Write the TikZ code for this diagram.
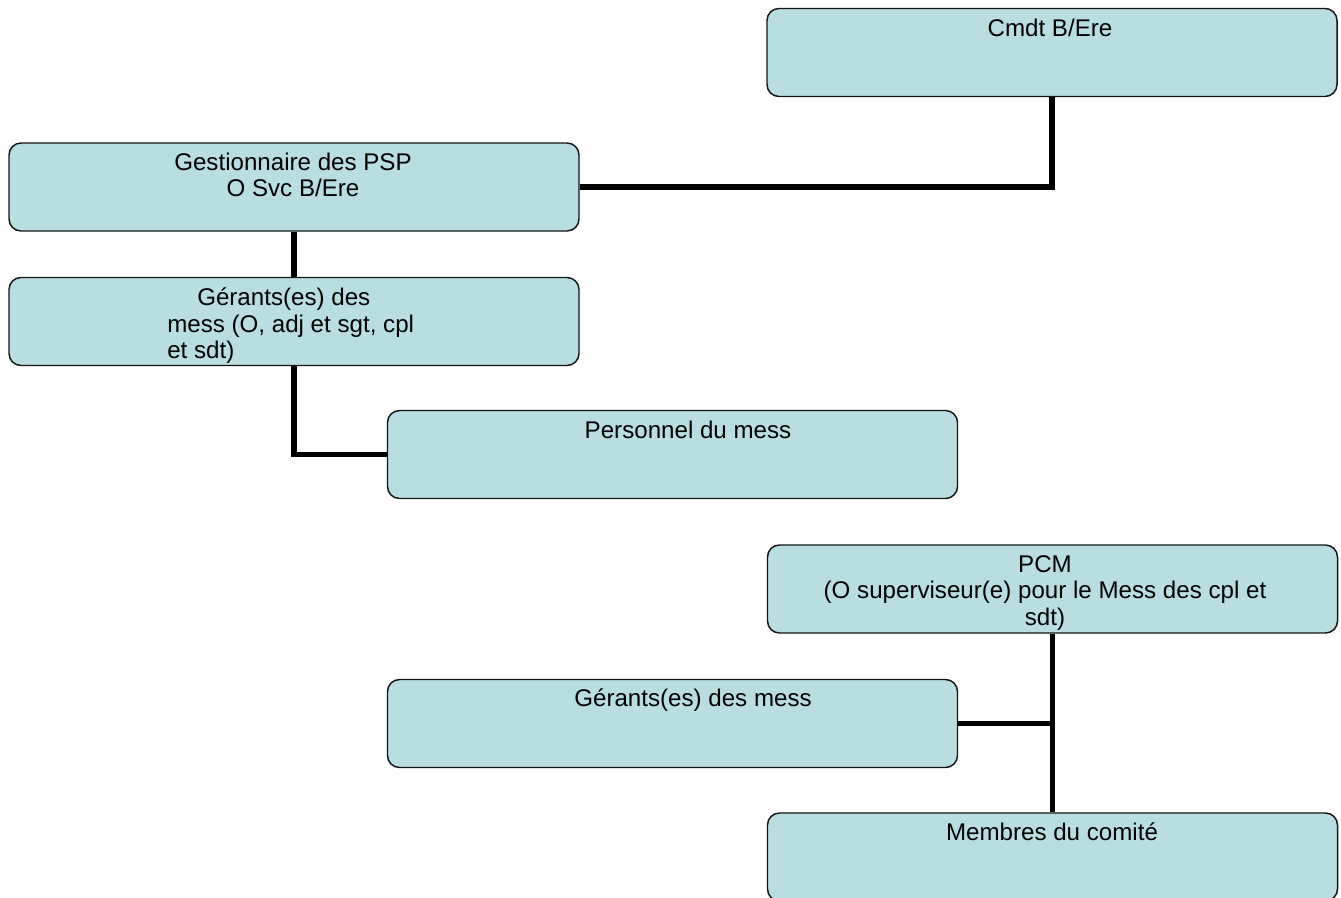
\documentclass[tikz,border=0pt]{standalone}
\usepackage{fontspec}
\setmainfont{Liberation Sans}
\definecolor{boxfill}{HTML}{B8DEE1}
\definecolor{boxline}{HTML}{141414}
\begin{document}
\begin{tikzpicture}[x=0.75pt,y=-0.75pt,
  box/.style={draw=boxline, line width=1.1pt, fill=boxfill, rounded corners=9pt,
              minimum width=427.5pt, minimum height=66pt, inner sep=0pt},
  lab/.style={inner sep=0pt, anchor=base, align=center,
              font=\fontsize{18.1}{19.7}\selectfont},
  labl/.style={lab, anchor=base west, align=left},
  link/.style={line width=3.8pt, draw=black}]
\useasboundingbox (0,0) rectangle (1341,898);
\clip (0,0) rectangle (1341,898);
% boxes
\node[box] (cmdt) at (1052,52.5) {};
\node[box] (gest) at (294,187) {};
\node[box] (ger1) at (294,321.5) {};
\node[box] (pers) at (672.5,454.5) {};
\node[box] (pcm)  at (1052.5,589) {};
\node[box] (ger2) at (672.5,723.5) {};
\node[box] (memb) at (1052.5,857) {};
% texts (base anchor = baseline of the last line)
\node[lab] (cmdt-t) at (1050,36.5) {Cmdt B/Ere};
\node[lab] (gest-t) at (293,196.5) {Gestionnaire des PSP\\O Svc B/Ere};
\node[labl] (ger1-t) at (167,358.5) {\hspace*{22.5pt}Gérants(es) des\\mess (O, adj et sgt, cpl\\et sdt)};
\node[lab] (pers-t) at (688,438.5) {Personnel du mess};
\node[lab] (pcm-t) at (1045,625) {PCM\\(O superviseur(e) pour le Mess des cpl et\\sdt)};
\node[lab] (ger2-t) at (693,706.5) {Gérants(es) des mess};
\node[lab] (memb-t) at (1052,840.5) {Membres du comité};
% connectors
\draw[link] (cmdt.south) |- (gest.east);
\draw[link] (gest.south) -- (ger1.north);
\draw[link] (ger1.south) |- (pers.west);
\draw[link] (pcm.south) -- (memb.north);
\draw[link] (ger2.east) -- (ger2.east -| pcm.south);
\end{tikzpicture}
\end{document}
